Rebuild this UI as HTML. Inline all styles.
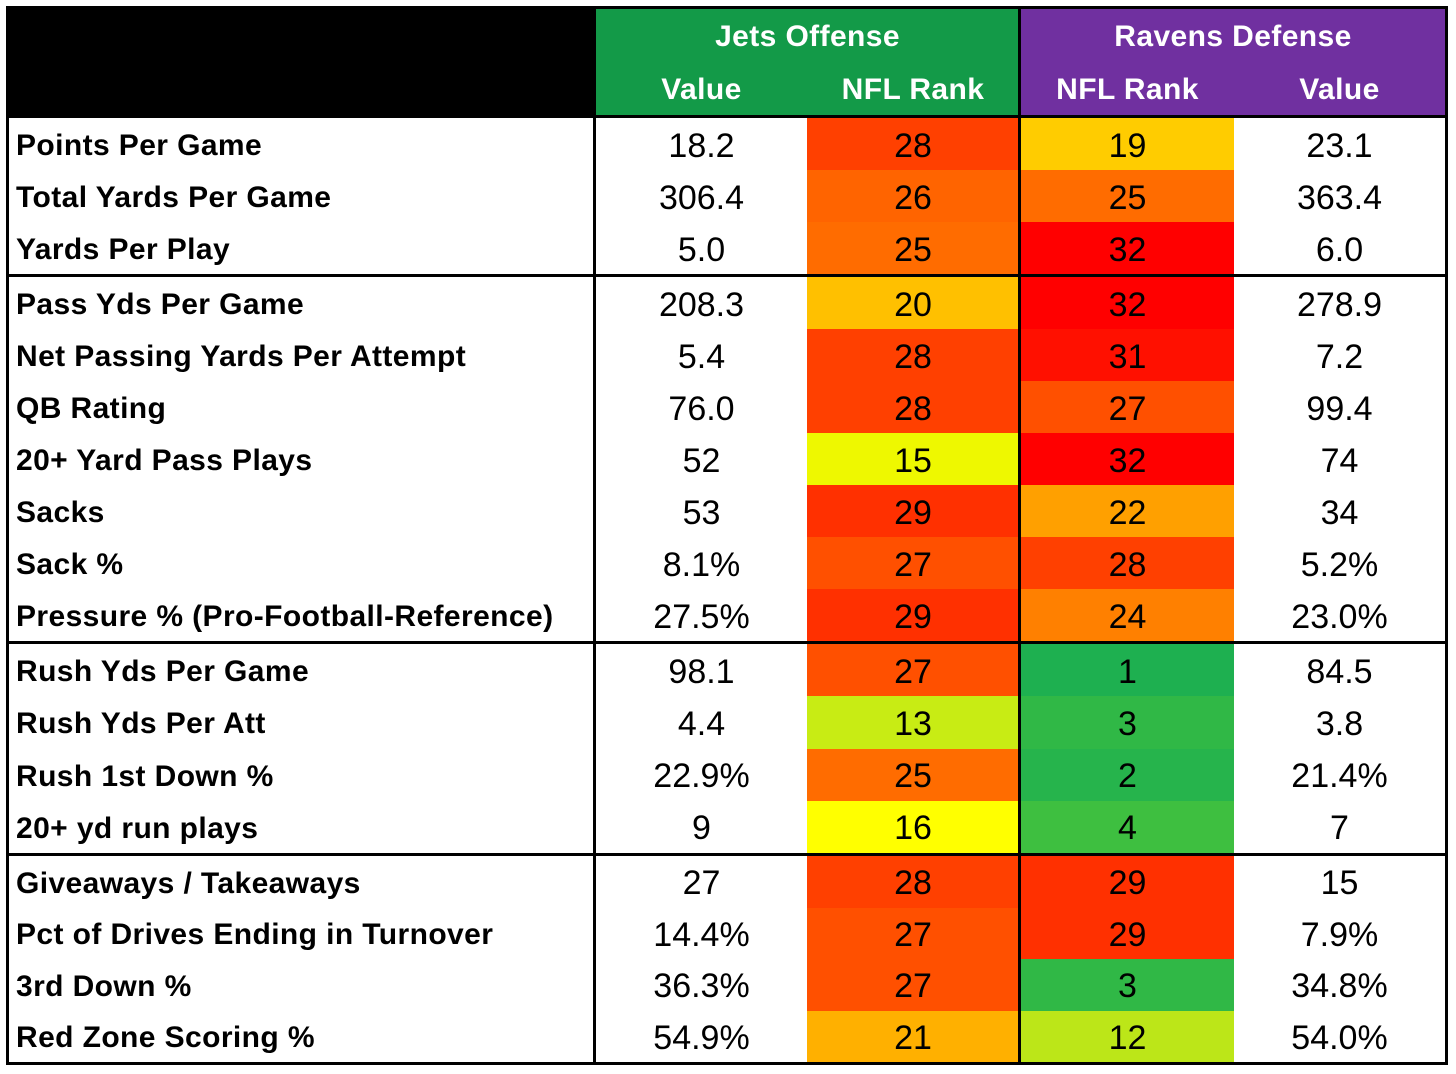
<!DOCTYPE html>
<html><head><meta charset="utf-8">
<style>
body{margin:0;width:1456px;height:1074px;background:#fff;position:relative;overflow:hidden;font-family:"Liberation Sans","DejaVu Sans",sans-serif}
.c{position:absolute;display:flex;align-items:center;justify-content:center;box-sizing:border-box;color:#000;font-size:34px;padding-top:4px}
.lab{justify-content:flex-start;padding-left:7px;font-weight:bold;font-size:30px;letter-spacing:0.4px}
.h{color:#fff;font-weight:bold;font-size:30px;letter-spacing:0.4px;padding-top:2px}
.line{position:absolute;background:#000}
</style></head><body>
<div class="c" style="left:6px;top:6px;width:590px;height:111px;background:#000"></div>
<div class="c h" style="left:596px;top:9px;width:423px;height:53px;background:#139a48">Jets Offense</div>
<div class="c h" style="left:596px;top:62px;width:211px;height:53px;background:#139a48">Value</div>
<div class="c h" style="left:807px;top:62px;width:212px;height:53px;background:#139a48">NFL Rank</div>
<div class="c h" style="left:1021px;top:9px;width:424px;height:53px;background:#7030a0">Ravens Defense</div>
<div class="c h" style="left:1021px;top:62px;width:213px;height:53px;background:#7030a0">NFL Rank</div>
<div class="c h" style="left:1234px;top:62px;width:211px;height:53px;background:#7030a0">Value</div>
<div id="rows"></div>
<script>
const labels=["Points Per Game","Total Yards Per Game","Yards Per Play","Pass Yds Per Game","Net Passing Yards Per Attempt","QB Rating","20+ Yard Pass Plays","Sacks","Sack %","Pressure % (Pro-Football-Reference)","Rush Yds Per Game","Rush Yds Per Att","Rush 1st Down %","20+ yd run plays","Giveaways / Takeaways","Pct of Drives Ending in Turnover","3rd Down %","Red Zone Scoring %"];
const jetsValues=["18.2","306.4","5.0","208.3","5.4","76.0","52","53","8.1%","27.5%","98.1","4.4","22.9%","9","27","14.4%","36.3%","54.9%"];
const jetsRanks=[28,26,25,20,28,28,15,29,27,29,27,13,25,16,28,27,27,21];
const ravensRanks=[19,25,32,32,31,27,32,22,28,24,1,3,2,4,29,29,3,12];
const ravensValues=["23.1","363.4","6.0","278.9","7.2","99.4","74","34","5.2%","23.0%","84.5","3.8","21.4%","7","15","7.9%","34.8%","54.0%"];
const groups=[[0,3,118,274],[3,10,277,641],[10,14,644,853],[14,18,856,1062]];
function rankColor(r){
  const m={1:"#1eb050",2:"#26b44c",3:"#30b846",4:"#3ebf40",12:"#bce618",13:"#c8ec14",15:"#eef800",16:"#ffff00",19:"#ffcc00",20:"#ffc000",21:"#ffb000",22:"#ffa000",24:"#ff8000",25:"#ff6c00",26:"#ff6400",27:"#ff5000",28:"#ff4000",29:"#ff3000",31:"#ff1000",32:"#ff0000"};
  return m[r]||"#ff8000";
}
const root=document.getElementById('rows');
function cell(x,y,w,h,txt,bg,cls,name){
  const d=document.createElement('div');
  d.className='c '+(cls||'');
  d.style.cssText=`left:${x}px;top:${y}px;width:${w}px;height:${h}px;background:${bg}`;
  d.textContent=txt;
  
  
  root.appendChild(d);
}
groups.forEach(([a,b,y0,y1])=>{
  const h=(y1-y0)/(b-a);
  for(let i=a;i<b;i++){
    const y=y0+(i-a)*h;
    cell(9,y,584,h,labels[i],'#fff','lab','row-label');
    cell(596,y,211,h,jetsValues[i],'#fff','','jets-value');
    cell(807,y,212,h,jetsRanks[i],rankColor(jetsRanks[i]),'','jets-rank');
    cell(1021,y,213,h,ravensRanks[i],rankColor(ravensRanks[i]),'','ravens-rank');
    cell(1234,y,211,h,ravensValues[i],'#fff','','ravens-value');
  }
});
function line(x,y,w,h){const d=document.createElement('div');d.className='line';d.style.cssText=`left:${x}px;top:${y}px;width:${w}px;height:${h}px`;


document.body.appendChild(d);}
line(6,6,1442,3);line(6,1062,1442,3);line(6,6,3,1059);line(1445,6,3,1059);
line(593,6,3,1059);line(1018,6,3,1059);
line(6,115,1442,3);line(6,274,1442,3);line(6,641,1442,3);line(6,853,1442,3);
</script>
</body></html>
